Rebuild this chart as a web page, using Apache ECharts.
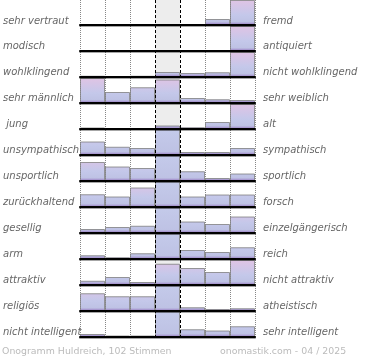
<!DOCTYPE html>
<html><head><meta charset="utf-8">
<script src="https://cdn.jsdelivr.net/npm/echarts@6/dist/echarts.min.js"></script>
<style>html,body{margin:0;padding:0;background:#fff}#c{width:370px;height:360px}</style>
</head><body><div id="c"></div>
<script>
// Column bins (7-step scale, middle = neutral)
const columns = ['1', '2', '3', '4', '5', '6', '7'];
const leftLabels = ['sehr vertraut', 'modisch', 'wohlklingend', 'sehr männlich', ' jung', 'unsympathisch', 'unsportlich', 'zurückhaltend', 'gesellig', 'arm', 'attraktiv', 'religiös', 'nicht intelligent'];
const rightLabels = ['fremd', 'antiquiert', 'nicht wohlklingend', 'sehr weiblich', 'alt', 'sympathisch', 'sportlich', 'forsch', 'einzelgängerisch', 'reich', 'nicht attraktiv', 'atheistisch', 'sehr intelligent'];
// Bar heights per row (relative scale, 100 = full row; values above 100 run off the scale)
const vertraut = [0, 0, 0, 4, 0, 24, 100];
const modisch = [0, 0, 0, 0, 0, 0, 100];
const wohlklingend = [5, 4, 5, 20, 16, 19, 100];
const maennlich = [100, 44, 63, 94, 20, 15, 12];
const jung = [6, 0, 0, 14, 7, 28, 100];
const unsympathisch = [54, 33, 28, 130, 12, 12, 28];
const unsportlich = [76, 58, 52, 130, 39, 12, 30];
const zurueckhaltend = [51, 42, 78, 130, 42, 50, 50];
const gesellig = [16, 24, 29, 130, 46, 36, 66];
const arm = [15, 7, 23, 130, 36, 28, 47];
const attraktiv = [17, 32, 12, 85, 68, 52, 100];
const religioes = [71, 59, 59, 130, 15, 8, 11];
const intelligent = [12, 6, 6, 130, 31, 26, 43];
const rows = [vertraut, modisch, wohlklingend, maennlich, jung, unsympathisch, unsportlich, zurueckhaltend, gesellig, arm, attraktiv, religioes, intelligent];
const footerLeft = 'Onogramm Huldreich, 102 Stimmen';
const footerRight = 'onomastik.com - 04 / 2025';

const H = 360, L = 80, W = 175, ROW_H = 25, Y_MAX = 100;
const FONT = 'DejaVu Sans';
const T = 'rgba(0,0,0,0)';

const grids = [], xAxes = [], yAxes = [], series = [];
rows.forEach((vals, i) => {
  const base = Math.round(25.3 + i * 25.95);
  const top = base - ROW_H;
  grids.push({ left: L, width: W, top: top, height: ROW_H });
  xAxes.push({ type: 'category', gridIndex: i, data: columns, z: 3,
    axisLine: { show: true, lineStyle: { color: '#000', width: 2, shadowColor: 'rgba(0,0,0,0.35)', shadowOffsetY: 1, shadowBlur: 0 } },
    axisTick: { show: false }, axisLabel: { show: false }, splitLine: { show: false } });
  yAxes.push({ type: 'value', gridIndex: i, min: 0, max: Y_MAX, show: false, splitLine: { show: false } });
  const pinkGrad = new echarts.graphic.LinearGradient(0, top, 0, base, [
    { offset: 0, color: '#e0c4e4' }, { offset: 0.35, color: '#d0c6e8' }, { offset: 0.6, color: '#c4c8ea' },
    { offset: 0.88, color: '#bec2e4' }, { offset: 0.93, color: '#aa9cd2' }, { offset: 1, color: '#9a88c4' }], true);
  const blueGrad = new echarts.graphic.LinearGradient(0, top, 0, base, [
    { offset: 0, color: '#c4caea' }, { offset: 0.88, color: '#bec2e4' }, { offset: 0.93, color: '#aa9cd2' }, { offset: 1, color: '#9a88c4' }], true);
  series.push({ type: 'bar', xAxisIndex: i, yAxisIndex: i, barCategoryGap: '0%', barGap: '0%', z: 2,
    animation: false, silent: true,
    data: vals.map(v => ({ value: v, itemStyle: { color: v > Y_MAX ? blueGrad : pinkGrad } })),
    itemStyle: { borderColor: 'rgba(120,120,120,0.75)', borderWidth: 1 } });
});

// background grid: column dividers and neutral column shading
const bg = rows.length;
grids.push({ left: L, width: W, top: 0, height: 337 });
xAxes.push({ type: 'value', gridIndex: bg, min: 0, max: 7, interval: 1, position: 'bottom', z: 0,
  axisLine: { show: false }, axisTick: { show: false }, axisLabel: { show: false },
  splitLine: { show: true, lineStyle: { type: [1, 1], width: 1, color: ['#888', '#888', '#888', T, T, '#888', '#888', '#888'] } },
  splitArea: { show: true, areaStyle: { color: [T, T, T, '#ededed', T, T, T] } } });
xAxes.push({ type: 'value', gridIndex: bg, min: 0, max: 7, interval: 1, position: 'top', z: 10,
  axisLine: { show: false }, axisTick: { show: false }, axisLabel: { show: false },
  splitLine: { show: true, lineStyle: { type: [3, 2], width: 1, color: [T, T, T, '#000', '#000', T, T, T] } } });
yAxes.push({ type: 'value', gridIndex: bg, show: false, splitLine: { show: false } });

// label grid
const lg = rows.length + 1;
grids.push({ left: L, width: W, top: 8, height: 337 });
xAxes.push({ type: 'value', gridIndex: lg, show: false, splitLine: { show: false } });
const labelStyle = { fontFamily: FONT, fontStyle: 'italic', fontSize: 10, color: '#666' };
yAxes.push({ type: 'category', gridIndex: lg, data: leftLabels, inverse: true, position: 'left',
  axisLine: { show: false }, axisTick: { show: false }, splitLine: { show: false },
  axisLabel: Object.assign({ align: 'left', margin: 80, interval: 0 }, labelStyle) });
yAxes.push({ type: 'category', gridIndex: lg, data: rightLabels, inverse: true, position: 'right',
  axisLine: { show: false }, axisTick: { show: false }, splitLine: { show: false },
  axisLabel: Object.assign({ align: 'left', margin: 8, interval: 0 }, labelStyle) });

const chart = echarts.init(document.getElementById('c'), null, { renderer: 'canvas' });
chart.setOption({
  animation: false,
  backgroundColor: '#fff',
  title: [
    { text: footerLeft, left: 2, top: 347, padding: 0, textStyle: { fontFamily: FONT, fontSize: 9.4, fontWeight: 'normal', color: '#bbb' } },
    { text: footerRight, left: 220, top: 347, padding: 0, textStyle: { fontFamily: FONT, fontSize: 9.4, fontWeight: 'normal', color: '#bbb' } }
  ],
  grid: grids, xAxis: xAxes, yAxis: yAxes, series: series
});
</script></body></html>
